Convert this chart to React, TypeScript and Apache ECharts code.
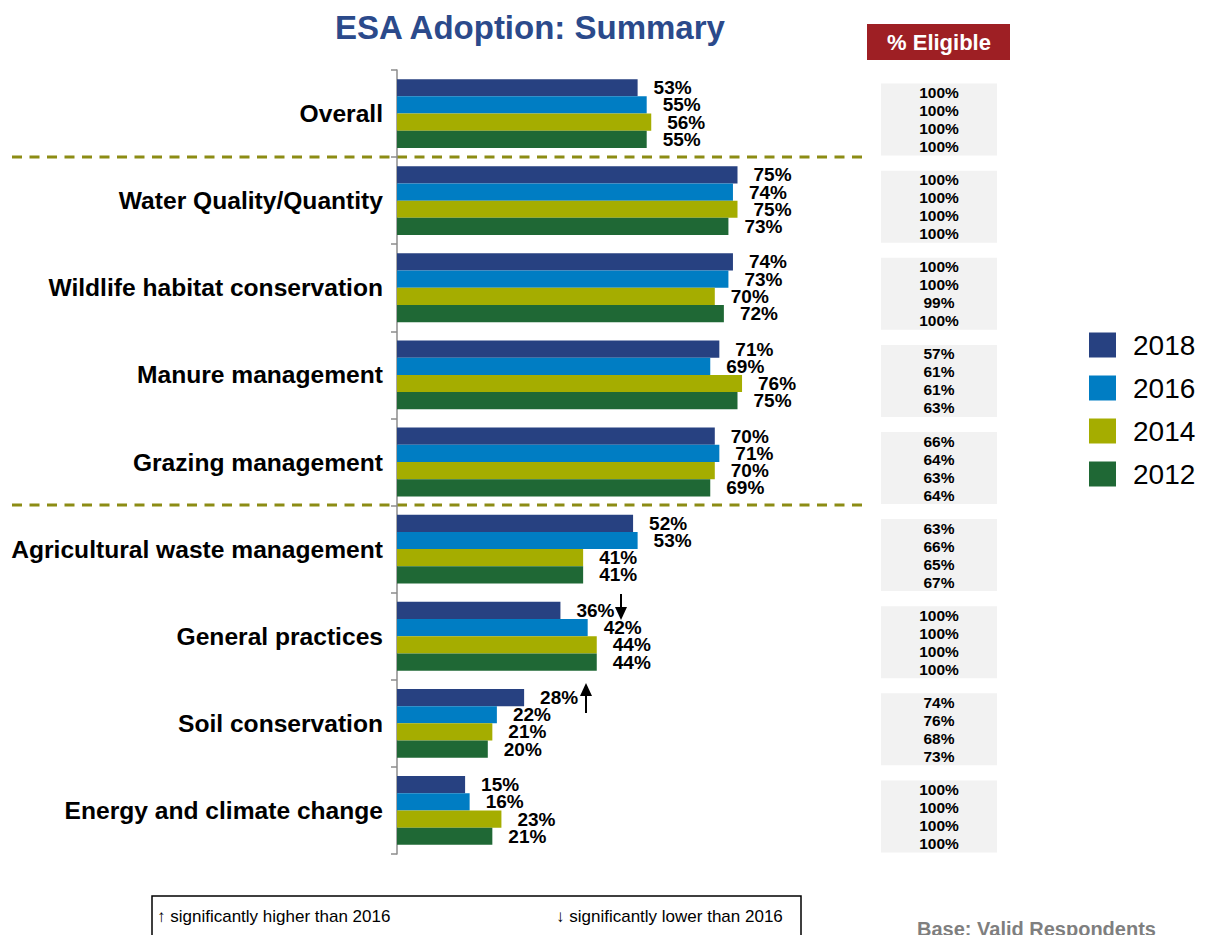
import React, { useEffect, useRef } from "react";
import * as echarts from "echarts";

const categories = [
  "Overall",
  "Water Quality/Quantity",
  "Wildlife habitat conservation",
  "Manure management",
  "Grazing management",
  "Agricultural waste management",
  "General practices",
  "Soil conservation",
  "Energy and climate change",
];
const years = ["2018", "2016", "2014", "2012"];
const values2018 = [53, 75, 74, 71, 70, 52, 36, 28, 15];
const values2016 = [55, 74, 73, 69, 71, 53, 42, 22, 16];
const values2014 = [56, 75, 70, 76, 70, 41, 44, 21, 23];
const values2012 = [55, 73, 72, 75, 69, 41, 44, 20, 21];
const eligible2018 = [100, 100, 100, 57, 66, 63, 100, 74, 100];
const eligible2016 = [100, 100, 100, 61, 64, 66, 100, 76, 100];
const eligible2014 = [100, 100, 99, 61, 63, 65, 100, 68, 100];
const eligible2012 = [100, 100, 100, 63, 64, 67, 100, 73, 100];
const colors = ["#274181", "#007DC3", "#A5AD00", "#1F6835"];

const FONT = "'Liberation Sans', Arial, Helvetica, sans-serif";

export default function App() {
  const ref = useRef<HTMLDivElement>(null);
  useEffect(() => {
    document.body.style.margin = "0";
    const chart = echarts.init(ref.current!, null, { renderer: "svg" });
    const seriesValues = [values2018, values2016, values2014, values2012];
    const eligibleCols = [eligible2018, eligible2016, eligible2014, eligible2012];
    const barSeries = years.map((y, i) => ({
      name: y,
      type: "bar",
      xAxisIndex: 0,
      yAxisIndex: 0,
      data: seriesValues[i],
      barGap: "0%",
      barCategoryGap: "21%",
      itemStyle: { color: colors[i] },
      label: {
        show: true,
        position: "right",
        distance: 16,
        formatter: "{c}%",
        fontFamily: FONT,
        fontWeight: "bold",
        fontSize: 19,
        color: "#000",
      },
    }));
    const eligibleSeries = {
      name: "Eligible",
      type: "bar",
      xAxisIndex: 1,
      yAxisIndex: 1,
      data: categories.map(() => 1),
      barWidth: 72,
      itemStyle: { color: "#F2F2F2" },
      label: {
        show: true,
        position: "inside",
        fontFamily: FONT,
        fontWeight: "bold",
        fontSize: 15.5,
        lineHeight: 18,
        color: "#000",
        formatter: (p: any) =>
          eligibleCols.map((c) => c[p.dataIndex] + "%").join("\n"),
      },
    };
    const dashStyle = {
      stroke: "#8C8C14",
      lineWidth: 3,
      lineDash: [10, 7.5],
    };
    chart.setOption({
      animation: false,
      textStyle: { fontFamily: FONT },
      grid: [
        { left: 397, top: 70, width: 454, height: 784 },
        { left: 881, top: 76, width: 116, height: 784 },
      ],
      xAxis: [
        { type: "value", min: 0, max: 100, show: false, gridIndex: 0 },
        { type: "value", min: 0, max: 1, show: false, gridIndex: 1 },
      ],
      yAxis: [
        {
          type: "category",
          gridIndex: 0,
          data: categories,
          inverse: true,
          axisLine: { show: true, lineStyle: { color: "#8c8c8c", width: 1.5 } },
          axisTick: { show: true, length: 6, lineStyle: { color: "#8c8c8c", width: 1.5 } },
          axisLabel: {
            margin: 14,
            fontFamily: FONT,
            fontWeight: "bold",
            fontSize: 24.6,
            color: "#000",
          },
        },
        {
          type: "category",
          gridIndex: 1,
          data: categories,
          inverse: true,
          show: false,
        },
      ],
      legend: {
        data: years,
        orient: "vertical",
        left: 1084,
        top: 326,
        icon: "rect",
        itemWidth: 27,
        itemHeight: 25,
        itemGap: 15,
        textStyle: {
          fontFamily: FONT,
          fontSize: 28,
          lineHeight: 25,
          color: "#000",
          padding: [0, 0, 0, 12],
        },
      },
      series: [...barSeries, eligibleSeries],
      graphic: [
        {
          type: "text",
          left: 335,
          top: 11,
          style: {
            text: "ESA Adoption: Summary",
            fontFamily: FONT,
            fontWeight: "bold",
            fontSize: 33,
            fill: "#2B4A8B",
          },
        },
        {
          type: "rect",
          shape: { x: 867, y: 24, width: 143, height: 36 },
          style: { fill: "#9E1F24" },
        },
        {
          type: "text",
          x: 939,
          y: 42,
          style: {
            text: "% Eligible",
            fontFamily: FONT,
            fontWeight: "bold",
            fontSize: 22,
            fill: "#fff",
            align: "center",
            verticalAlign: "middle",
          },
        },
        { type: "line", shape: { x1: 12, y1: 157, x2: 868, y2: 157 }, style: dashStyle },
        { type: "line", shape: { x1: 12, y1: 505, x2: 868, y2: 505 }, style: dashStyle },
        // down arrow (General practices 2018)
        { type: "line", shape: { x1: 621, y1: 594, x2: 621, y2: 610 }, style: { stroke: "#000", lineWidth: 2 } },
        {
          type: "polygon",
          shape: { points: [[615, 607], [627, 607], [621, 620]] },
          style: { fill: "#000" },
        },
        // up arrow (Soil conservation 2018)
        { type: "line", shape: { x1: 586, y1: 694, x2: 586, y2: 713 }, style: { stroke: "#000", lineWidth: 2 } },
        {
          type: "polygon",
          shape: { points: [[580, 696], [592, 696], [586, 683]] },
          style: { fill: "#000" },
        },
        {
          type: "rect",
          shape: { x: 152, y: 896, width: 649, height: 50 },
          style: { fill: "#fff", stroke: "#000", lineWidth: 1.5 },
        },
        {
          type: "text",
          x: 157,
          y: 916,
          style: {
            text: "↑ significantly higher than 2016",
            fontFamily: FONT,
            fontSize: 17,
            fill: "#000",
            verticalAlign: "middle",
          },
        },
        {
          type: "text",
          x: 556,
          y: 916,
          style: {
            text: "↓ significantly lower than 2016",
            fontFamily: FONT,
            fontSize: 17,
            fill: "#000",
            verticalAlign: "middle",
          },
        },
        {
          type: "text",
          x: 917,
          y: 919,
          style: {
            text: "Base: Valid Respondents",
            fontFamily: FONT,
            fontWeight: "bold",
            fontSize: 20,
            fill: "#7F7F7F",
            verticalAlign: "top",
          },
        },
      ],
    });
    return () => chart.dispose();
  }, []);
  return <div ref={ref} style={{ width: 1209, height: 935 }} />;
}
